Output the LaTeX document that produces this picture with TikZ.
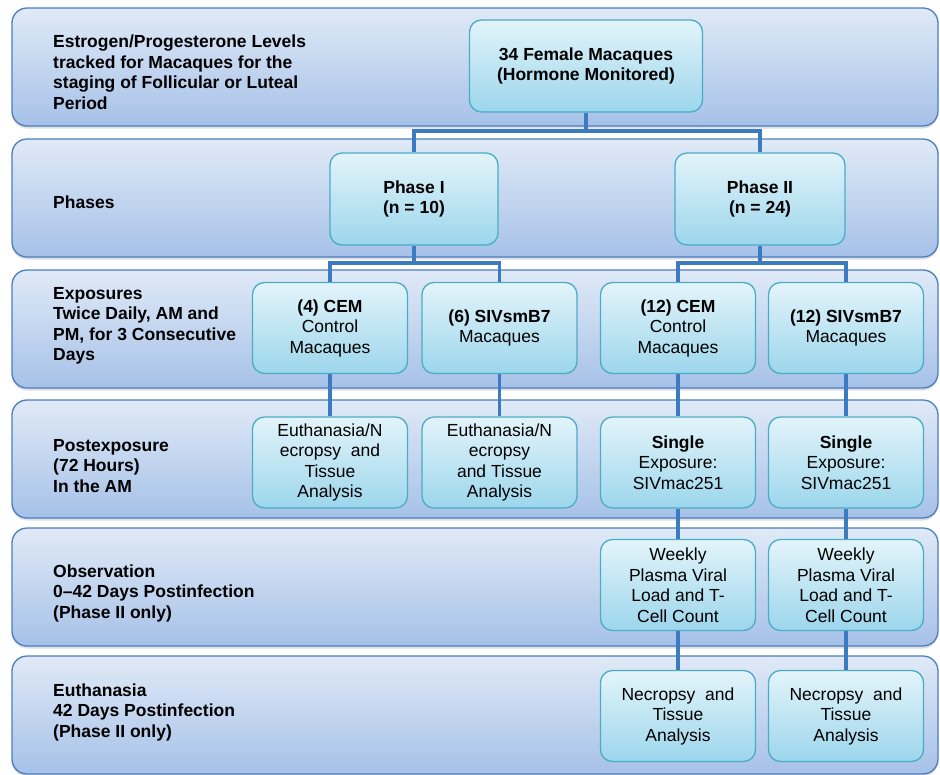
\documentclass[tikz,border=0pt]{standalone}
\usepackage{fontspec}
\setmainfont{Liberation Sans}
\usetikzlibrary{
  calc,
  positioning,
  shadows,
}
\definecolor{bandline}{HTML}{4A7EBF}
\definecolor{bandtop}{HTML}{E0EAF7}
\definecolor{bandbot}{HTML}{A6C1E8}
\definecolor{boxline}{HTML}{4BACC6}
\definecolor{boxtop}{HTML}{E3F4FA}
\definecolor{boxbot}{HTML}{9CD6EC}
\definecolor{link}{HTML}{3D7BC1}

\begin{document}
\begin{tikzpicture}[x=1pt,y=-1pt,
  font=\fontsize{17.5}{20.5}\selectfont,
  band/.style={draw=bandline,line width=1.3pt,rounded corners=15pt,
    top color=bandtop,bottom color=bandbot,
    drop shadow={opacity=.25,shadow xshift=0pt,shadow yshift=-2.5pt}},
  lbl/.style={anchor=west,align=left,inner sep=0pt,
    font=\fontsize{17.5}{20.5}\selectfont\bfseries},
  box/.style={draw=boxline,line width=1.3pt,rounded corners=12pt,
    top color=boxtop,bottom color=boxbot,align=center,
    minimum width=155pt,minimum height=91pt,inner sep=2pt},
  conn/.style={draw=link,line width=3.6pt}]
  \useasboundingbox (0,0) rectangle (940,774);
  %% stage bands
  \foreach \t in {8,139,270,400,528,656}
    \path[band] (12,\t) rectangle (938,\t+118);
  \node[lbl](Lhorm) at (53,72)
    {Estrogen/Progesterone Levels\\tracked for Macaques for the\\staging of Follicular or Luteal\\Period};
  \node[lbl](Lphase) at (53,202) {Phases};
  \node[lbl](Lexpo) at (53,326)
    {Exposures\\Twice Daily, AM and\\PM, for 3 Consecutive\\Days};
  \node[lbl](Lpost) at (53,466) {Postexposure\\(72 Hours)\\In the AM};
  \node[lbl](Lobs) at (53,593)
    {Observation\\0--42 Days Postinfection\\(Phase II only)};
  \node[lbl](Leuth) at (53,712)
    {Euthanasia\\42 Days Postinfection\\(Phase II only)};
  %% groups
  \node[box,minimum width=233pt,minimum height=92pt](All) at (586,66)
    {\textbf{34 Female Macaques}\\\textbf{(Hormone Monitored)}};
  \node[box,minimum width=168pt,minimum height=92pt](PhI) at (414,199)
    {\textbf{Phase I}\\\textbf{(n = 10)}};
  \node[box,minimum width=170pt,minimum height=92pt](PhII) at (760,199)
    {\textbf{Phase II}\\\textbf{(n = 24)}};
  %%
  \node[box](Acem) at (330,328) {\textbf{(4) CEM}\\Control\\Macaques};
  \node[box](Asiv) at (499.5,328) {\textbf{(6) SIVsmB7}\\Macaques};
  \node[box](Bcem) at (678,328) {\textbf{(12) CEM}\\Control\\Macaques};
  \node[box](Bsiv) at (846,328) {\textbf{(12) SIVsmB7}\\Macaques};
  %%
  \node[box](Acemp) at (330,462.5)
    {Euthanasia/N\\ecropsy\ \ and\\Tissue\\Analysis};
  \node[box](Asivp) at (499.5,462.5)
    {Euthanasia/N\\ecropsy\\and Tissue\\Analysis};
  \node[box](Bcemp) at (678,462.5) {\textbf{Single}\\Exposure:\\SIVmac251};
  \node[box](Bsivp) at (846,462.5) {\textbf{Single}\\Exposure:\\SIVmac251};
  %%
  \node[box](Bcemo) at (678,585)
    {Weekly\\Plasma Viral\\Load and T-\\Cell Count};
  \node[box](Bsivo) at (846,585)
    {Weekly\\Plasma Viral\\Load and T-\\Cell Count};
  \node[box](Bceme) at (678,716) {Necropsy\ \ and\\Tissue\\Analysis};
  \node[box](Bsive) at (846,716) {Necropsy\ \ and\\Tissue\\Analysis};
  %% connectors
  \coordinate(J0) at (All.south |- 0,131);
  \coordinate(J1) at (PhI.south |- 0,263);
  \coordinate(J2) at (PhII.south |- 0,263);
  \draw[conn] (All.south) -- (J0);
  \draw[conn] (PhI.north) |- (J0) -| (PhII.north);
  \draw[conn] (PhI.south) -- (J1);
  \draw[conn] (Acem.north) |- (J1) -| (Asiv.north);
  \draw[conn] (PhII.south) -- (J2);
  \draw[conn] (Bcem.north) |- (J2) -| (Bsiv.north);
  \draw[conn] (Acem) -- (Acemp);
  \draw[conn] (Asiv) -- (Asivp);
  \draw[conn] (Bcem) -- (Bcemp);
  \draw[conn] (Bsiv) -- (Bsivp);
  \draw[conn] (Bcemp) -- (Bcemo);
  \draw[conn] (Bsivp) -- (Bsivo);
  \draw[conn] (Bcemo) -- (Bceme);
  \draw[conn] (Bsivo) -- (Bsive);
\end{tikzpicture}
\end{document}
